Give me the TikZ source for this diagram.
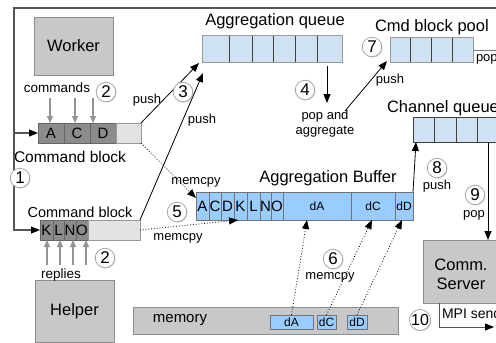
\documentclass[tikz,border=0pt]{standalone}
\usepackage{fontspec}
\setmainfont{Liberation Sans}
\usetikzlibrary{arrows.meta,shadows,calc}
\definecolor{boxgray}{HTML}{C8C8C8}
\definecolor{cmddark}{HTML}{8C8C8C}
\definecolor{cmdlight}{HTML}{E3E3E3}
\definecolor{qblue}{HTML}{CFE2F3}
\definecolor{bblue}{HTML}{99CCFF}
\definecolor{linegray}{HTML}{555555}
\newcommand\mkcell[7]{\node[#6, anchor=north west, minimum width={#4-#2}, minimum height={#5-#3}] (#1) at (#2,#3) {#7};}
\begin{document}
\begin{tikzpicture}[x=1pt,y=-1pt,
  every node/.style={inner sep=0pt, outer sep=0pt},
  tip/.style={-{Triangle[length=9pt,width=7pt,color=black]}},
  gtip/.style={-{Triangle[length=7pt,width=6pt]}, draw=gray!85, line width=1.3pt},
  bigbox/.style={draw=gray!90, fill=boxgray, line width=0.8pt, font=\fontsize{16.5}{19}\selectfont, align=center},
  dcell/.style={draw=gray!80!black, fill=cmddark, line width=0.6pt, font=\fontsize{15}{15}\selectfont},
  lcell/.style={draw=gray!80, fill=cmdlight, line width=0.6pt},
  qcell/.style={draw=black!75, fill=qblue, line width=0.7pt},
  bcell/.style={draw=gray!90!black, fill=bblue, line width=0.7pt, font=\fontsize{15}{15}\selectfont},
  scell/.style={draw=gray!90!black, fill=bblue, line width=0.7pt, font=\fontsize{12}{12}\selectfont},
  title/.style={font=\fontsize{16.5}{19}\selectfont},
  small/.style={font=\fontsize{13}{15}\selectfont, align=center},
  num/.style={circle, draw=gray!70, fill=white, line width=0.8pt, minimum size=19.5pt, font=\fontsize{17}{17}\selectfont, drop shadow={opacity=0.3, shadow xshift=0.8pt, shadow yshift=-0.8pt}},
  frame/.style={draw=linegray, line width=1.1pt},
  dline/.style={draw=black, dotted, line width=0.8pt}
]
\useasboundingbox (0,0) rectangle (496,343);
\clip (0,0) rectangle (496,343);

% Worker and helper
\mkcell{worker}{34}{17}{113}{75}{bigbox}{Worker}
\mkcell{helper}{35}{280}{114}{342}{bigbox}{Helper}

% Command block 1
\mkcell{A}{38}{123}{64}{143}{dcell}{A}
\mkcell{C}{64}{123}{90}{143}{dcell}{C}
\mkcell{D}{90}{123}{116}{143}{dcell}{D}
\mkcell{E}{116}{123}{141}{143}{lcell}{}
\node[font=\fontsize{15.5}{17}\selectfont] (cbl1) at (70,157) {Command block};
\node[font=\fontsize{13.5}{15}\selectfont] (cmds) at (57,88) {commands};
\node[num] (n2a) at (106,92) {2};
\coordinate (ca1) at (50,98);
\coordinate (ca2) at (75,98);
\coordinate (ca3) at (93,98);
\draw[gtip] (ca1) -- (ca1 |- A.north);
\draw[gtip] (ca2) -- (ca2 |- A.north);
\draw[gtip] (ca3) -- (ca3 |- A.north);

% Command block 2
\mkcell{K}{40}{220}{53}{240}{dcell}{K}
\mkcell{L}{53}{220}{64}{240}{dcell}{L}
\mkcell{N}{64}{220}{76}{240}{dcell}{N}
\mkcell{O}{76}{220}{88}{240}{dcell}{O}
\mkcell{R}{88}{220}{140}{240}{lcell}{}
\node[font=\fontsize{14.5}{16}\selectfont] (cbl2) at (80,212) {Command block};
\node[font=\fontsize{13.5}{15}\selectfont] (repl) at (61,275) {replies};
\node[num] (n2b) at (105,258) {2};
\coordinate (ra1) at (47,265);
\coordinate (ra2) at (60,265);
\coordinate (ra3) at (73,265);
\coordinate (ra4) at (86,265);
\draw[gtip] (ra1) -- (ra1 |- K.south);
\draw[gtip] (ra2) -- (ra2 |- K.south);
\draw[gtip] (ra3) -- (ra3 |- K.south);
\draw[gtip] (ra4) -- (ra4 |- K.south);

% frame
\coordinate (ftr) at (497,8);
\coordinate (ftl) at (14,8);
\coordinate (fbl) at (14,230);
\coordinate (fj) at (14,133);
\draw[frame, tip] (ftr) -- (ftl) -- (fbl) -- (K.west);
\draw[frame, tip] (fj) -- (A.west);
\node[num] (n1) at (20,178) {1};

% Aggregation queue
\node[title] (aqt) at (275,21) {Aggregation queue};
\mkcell{q1}{202}{35}{229}{62}{qcell}{}
\mkcell{q2}{229}{35}{252}{62}{qcell}{}
\mkcell{q3}{252}{35}{273}{62}{qcell}{}
\mkcell{q4}{273}{35}{295}{62}{qcell}{}
\mkcell{q5}{295}{35}{317}{62}{qcell}{}
\mkcell{q6}{317}{35}{342}{62}{qcell}{}
\draw[draw=gray!80, line width=0.8pt] (q1.north west) rectangle (q6.south east);

% push arrows
\draw[tip, line width=0.8pt] (E.north east) -- ($(q1.south west)+(-3,1)$);
\draw[tip, line width=0.8pt] (R.north east) -- ($(q1.south west)+(1,11)$);
\node[small] (push1) at (147,100) {push};
\node[small] (push2) at (202,120) {push};
\node[num] (n3) at (183,92) {3};

% pop and aggregate
\coordinate (pa) at (327,66);
\coordinate (pb) at (327,103);
\draw[tip, line width=0.8pt] (pa) -- (pb);
\node[num] (n4) at (305,90) {4};
\node[small, font=\fontsize{13}{15}\selectfont] (popagg) at (325,124) {pop and\\aggregate};

% Cmd block pool
\node[title, anchor=west] (cbpt) at (375,27) {Cmd block pool};
\mkcell{p1}{390}{37}{410}{62}{qcell}{}
\mkcell{p2}{410}{37}{431}{62}{qcell}{}
\mkcell{p3}{431}{37}{452}{62}{qcell}{}
\mkcell{p4}{452}{37}{473}{62}{qcell}{}
\draw[draw=gray!80, line width=0.8pt] (p1.north west) rectangle (p4.south east);
\coordinate (pe) at (497,50);
\draw[draw=gray, line width=1pt] (p4.east |- pe) -- (pe);
\node[small, anchor=west] (pop1) at (476,59) {pop};
\node[num] (n7) at (372,47) {7};
\coordinate (ps) at (345,111);
\draw[tip, line width=0.8pt] (ps) -- ($(p1.south west)+(-3,-1)$);
\node[small] (push7) at (390,80) {push};

% Channel queue
\node[title, anchor=west] (chqt) at (387,108) {Channel queue};
\mkcell{c1}{413}{117}{434}{142}{qcell}{}
\mkcell{c2}{434}{117}{456}{142}{qcell}{}
\mkcell{c3}{456}{117}{477}{142}{qcell}{}
\mkcell{c4}{477}{117}{499}{142}{qcell}{}

% Aggregation buffer
\node[title] (abt) at (328,178) {Aggregation Buffer};
\mkcell{bA}{196}{192}{209}{220}{bcell}{A}
\mkcell{bC}{209}{192}{221}{220}{bcell}{C}
\mkcell{bD}{221}{192}{234}{220}{bcell}{D}
\mkcell{bK}{234}{192}{247}{220}{bcell}{K}
\mkcell{bL}{247}{192}{260}{220}{bcell}{L}
\mkcell{bN}{260}{192}{271}{220}{bcell}{N}
\mkcell{bO}{271}{192}{283}{220}{bcell}{O}
\mkcell{bdA}{283}{192}{351}{220}{scell}{dA}
\mkcell{bdC}{351}{192}{395}{220}{scell}{dC}
\mkcell{bdD}{395}{192}{413}{220}{scell}{dD}

% memcpy from command blocks
\draw[dline, tip] (E.south east) -- ($(bA.north west)+(0,6)$);
\draw[dline, tip] (R.east) -- ($(bK.south west)+(4,0)$);
\node[small] (mc1) at (196,182) {memcpy};
\node[small] (mc2) at (178,238) {memcpy};
\node[num] (n5) at (177,212) {5};

% memory
\mkcell{mem}{133}{307}{398}{334}{bigbox}{}
\node[font=\fontsize{15}{17}\selectfont] (memt) at (180,320) {memory};
\mkcell{mdA}{270}{315}{313}{329}{scell}{dA}
\mkcell{mdC}{317}{315}{336}{329}{scell}{dC}
\mkcell{mdD}{347}{315}{367}{329}{scell}{dD}
\draw[dline, tip] (mdA.north) -- ($(bdA.south)+(-10,0)$);
\draw[dline, tip] (mdC.north) -- ($(bdC.south)+(-1,0)$);
\draw[dline, tip] (mdD.north) -- ($(bdD.south)+(-2,0)$);
\node[num] (n6) at (333,259) {6};
\node[small] (mc3) at (330,277) {memcpy};

% push to channel queue
\draw[tip, line width=0.8pt] (bdD.north east) -- ($(c1.south west)+(3,0)$);
\node[num] (n8) at (437,168) {8};
\node[small] (push8) at (437,186) {push};

% Comm server
\mkcell{srv}{423}{240}{500}{303}{bigbox}{}
\node[font=\fontsize{16.5}{19}\selectfont, align=center] (srvt) at (461,274) {Comm.\\Server};
\draw[tip, line width=0.8pt] (c4.south) -- (c4.south |- srv.north);
\node[num] (n9) at (475,195) {9};
\node[small] (pop9) at (474,215) {pop};

% MPI send
\coordinate (mt) at (439,303);
\coordinate (mb) at (439,327);
\coordinate (me) at (494,327);
\draw[draw=linegray, line width=0.9pt, tip] (mt) -- (mb) -- (me);
\node[small, anchor=west, font=\fontsize{14}{16}\selectfont] (mpi) at (442,313) {MPI send};
\node[num, font=\fontsize{16}{16}\selectfont] (n10) at (420,320) {10};
\end{tikzpicture}
\end{document}
